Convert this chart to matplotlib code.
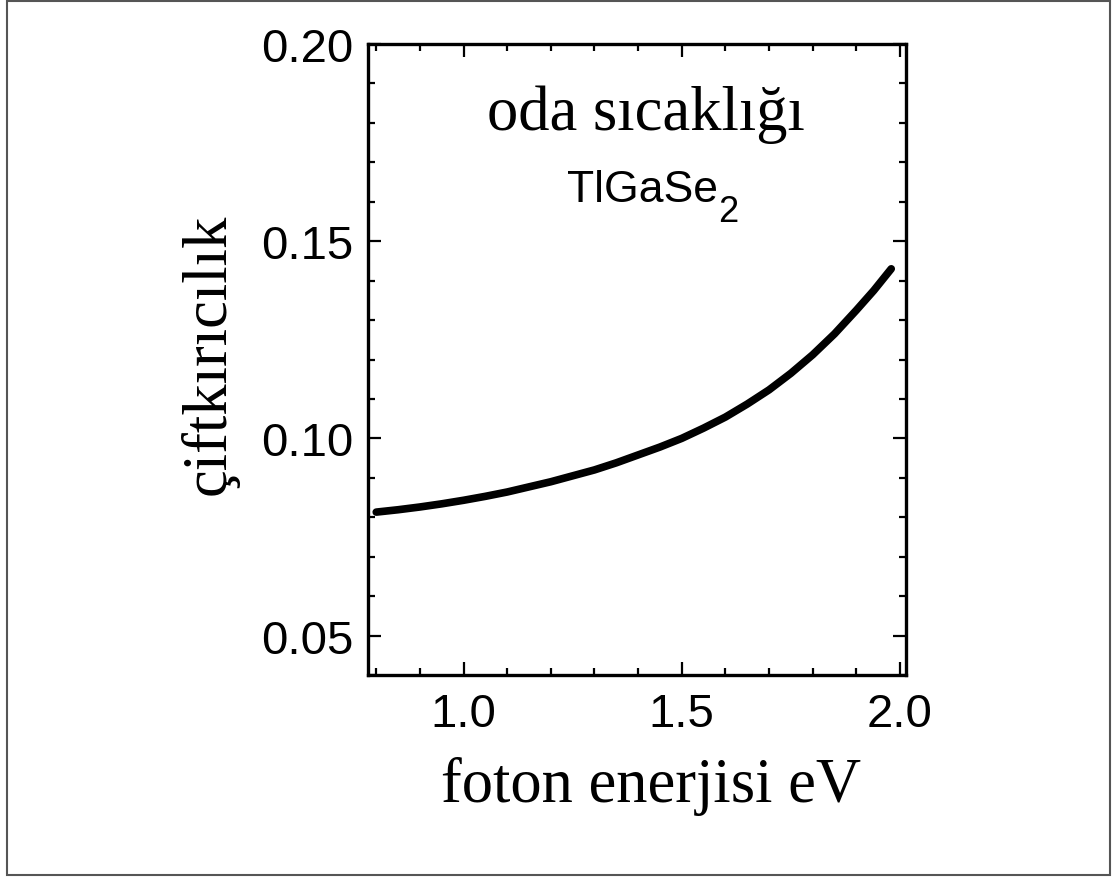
import matplotlib
matplotlib.use("Agg")
import matplotlib.pyplot as plt
from matplotlib.patches import Rectangle
from matplotlib.ticker import MultipleLocator

# values
energy = [0.80, 0.85, 0.90, 0.95, 1.00, 1.05, 1.10, 1.15, 1.20, 1.25, 1.30, 1.35,
          1.40, 1.45, 1.50, 1.55, 1.60, 1.65, 1.70, 1.75, 1.80, 1.85, 1.90, 1.94, 1.98]
birefringence = [0.0813, 0.0819, 0.0826, 0.0834, 0.0843, 0.0853, 0.0864, 0.0877,
                 0.0890, 0.0905, 0.0920, 0.0938, 0.0958, 0.0978, 0.1000, 0.1026,
                 0.1054, 0.1087, 0.1123, 0.1165, 0.1212, 0.1265, 0.1325, 0.1375, 0.1430]

x_label = "foton enerjisi eV"
y_label = "çiftkırıcılık"
note_top = "oda sıcaklığı"
note_sample = "TlGaSe"
note_sub = "2"

fig = plt.figure(figsize=(11.13, 8.78), dpi=100)
ax = fig.add_axes([0.3302, 0.2301, 0.4835, 0.7186])

ax.plot(energy, birefringence, color="black", lw=5.5, solid_capstyle="round",
        solid_joinstyle="round")

ax.set_xlim(0.78, 2.013)
ax.set_ylim(0.04, 0.20)
ax.xaxis.set_major_locator(MultipleLocator(0.5))
ax.xaxis.set_minor_locator(MultipleLocator(0.1))
ax.yaxis.set_major_locator(MultipleLocator(0.05))
ax.yaxis.set_minor_locator(MultipleLocator(0.01))
ax.xaxis.set_major_formatter(lambda v, p: f"{v:.1f}")
ax.yaxis.set_major_formatter(lambda v, p: f"{v:.2f}")

for s in ax.spines.values():
    s.set_linewidth(2.4)
ax.tick_params(which="both", direction="in", top=True, right=True, width=1.6)
ax.tick_params(which="major", length=9.5)
ax.tick_params(which="minor", length=5)
ax.tick_params(axis="x", which="major", pad=12)
ax.tick_params(axis="y", which="major", pad=10)
for lab in ax.get_xticklabels() + ax.get_yticklabels():
    lab.set_fontfamily("Liberation Sans")
    lab.set_fontsize(34)

# axis titles placed by hand to sit where the reference has them
ax.text(0.527, -0.1997, x_label, transform=ax.transAxes, ha="center",
        va="baseline", family="Liberation Serif", fontsize=45)
ax.text(-0.2648, 0.510, y_label, transform=ax.transAxes, ha="center",
        va="baseline", rotation=90, rotation_mode="anchor",
        family="Liberation Serif", fontsize=45)

ax.text(0.5176, 0.865, note_top, transform=ax.transAxes, ha="center",
        va="baseline", family="Liberation Serif", fontsize=45)
ax.text(0.371, 0.7517, note_sample, transform=ax.transAxes, ha="left",
        va="baseline", family="Liberation Sans", fontsize=32)
ax.text(0.651, 0.72, note_sub, transform=ax.transAxes, ha="left",
        va="baseline", family="Liberation Sans", fontsize=26)

fig.patches.append(Rectangle((0.006, 0.002), 0.991, 0.996, transform=fig.transFigure,
                             fill=False, edgecolor="#555555", lw=1.5))

fig.savefig("out.png", dpi=100)
